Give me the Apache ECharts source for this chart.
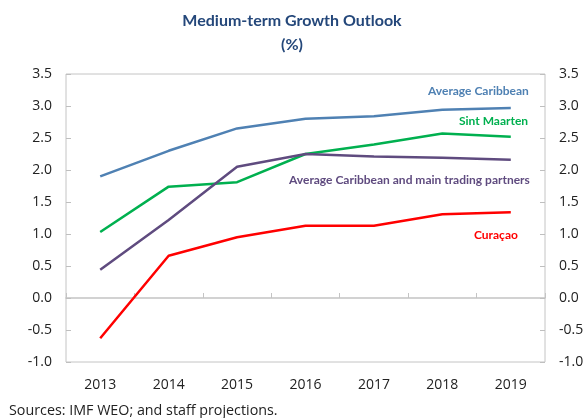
<!DOCTYPE html>
<html>
<head>
<meta charset="utf-8">
<script src="https://cdn.jsdelivr.net/npm/echarts@6/dist/echarts.min.js"></script>
<style>
  html, body { margin: 0; padding: 0; background: #fff; }
  #chart { width: 584px; height: 418px; }
</style>
</head>
<body>
<div id="chart"></div>
<script>
// years on the x axis
const years = ["2013", "2014", "2015", "2016", "2017", "2018", "2019"];
// series values (%)
const avgCaribbean = [1.9, 2.3, 2.65, 2.8, 2.84, 2.94, 2.97];
const sintMaarten = [1.03, 1.74, 1.81, 2.25, 2.4, 2.57, 2.52];
const avgCaribPartners = [0.44, 1.22, 2.05, 2.25, 2.21, 2.19, 2.16];
const curacao = [-0.63, 0.66, 0.95, 1.13, 1.13, 1.31, 1.34];
// y axis range
const yMin = -1.0;
const yMax = 3.5;
const yStep = 0.5;

const chart = echarts.init(document.getElementById("chart"));
const font = "Lato, 'Open Sans', sans-serif";

function lineSeries(name, data, color, yIndex) {
  return {
    name: name,
    type: "line",
    data: data,
    xAxisIndex: 0,
    yAxisIndex: yIndex || 0,
    symbol: "none",
    lineStyle: { color: color, width: 2.5 },
    itemStyle: { color: color },
    animation: false,
  };
}

function note(text, x, y, color) {
  return {
    type: "text",
    left: x,
    top: y,
    style: { text: text, fill: color, font: "bold 12px " + font },
  };
}

const yAxisBase = {
  type: "value",
  min: yMin,
  max: yMax,
  interval: yStep,
  splitLine: { show: false },
  axisLine: { show: false },
  axisTick: { show: true, inside: true, length: 5, lineStyle: { color: "#bfbfbf" } },
  axisLabel: {
    color: "#222",
    fontFamily: "'Open Sans', sans-serif",
    fontSize: 14,
    margin: 14,
    formatter: (v) => v.toFixed(1),
  },
};

const option = {
  backgroundColor: "#fff",
  title: {
    text: "Medium-term Growth Outlook\n(%)",
    left: "center",
    top: 4,
    textStyle: {
      color: "#24477a",
      fontFamily: font,
      fontWeight: "bold",
      fontSize: 16,
      lineHeight: 24,
    },
  },
  grid: {
    left: 66,
    right: 39,
    top: 74,
    bottom: 56,
    show: true,
    borderColor: "#c4c4c4",
    borderWidth: 1,
    containLabel: false,
    outerBoundsMode: "none",
  },
  xAxis: [
    {
      // labels along the bottom edge
      type: "category",
      data: years,
      position: "bottom",
      axisLine: { show: false, onZero: false },
      axisTick: { show: false },
      axisLabel: { color: "#222", fontFamily: "'Open Sans', sans-serif", fontSize: 14, margin: 16 },
    },
    {
      // zero line with the year ticks
      type: "category",
      data: years,
      position: "bottom",
      axisLine: { show: true, onZero: true, onZeroAxisIndex: 0, lineStyle: { color: "#c4c4c4", width: 1.5 } },
      axisTick: { show: true, inside: true, length: 5, lineStyle: { color: "#c4c4c4" } },
      axisLabel: { show: false },
    },
  ],
  yAxis: [
    Object.assign({}, yAxisBase, { position: "left" }),
    Object.assign({}, yAxisBase, { position: "right" }),
  ],
  series: [
    lineSeries("Average Caribbean", avgCaribbean, "#4f81b3"),
    lineSeries("Sint Maarten", sintMaarten, "#00b04f"),
    lineSeries("Average Caribbean and main trading partners", avgCaribPartners, "#5f4b7f"),
    lineSeries("Curaçao", curacao, "#ff0000", 1),
  ],
  graphic: [
    note("Average Caribbean", 428, 85, "#4f81b3"),
    note("Sint Maarten", 459, 115, "#00b04f"),
    note("Average Caribbean and main trading partners", 289, 174, "#5f4b7f"),
    note("Curaçao", 474, 229, "#ff0000"),
    {
      type: "text",
      left: 9,
      top: 404,
      style: { text: "Sources: IMF WEO; and staff projections.", fill: "#222", font: "14.3px 'Open Sans', sans-serif" },
    },
  ],
};

chart.setOption(option);
</script>
</body>
</html>
